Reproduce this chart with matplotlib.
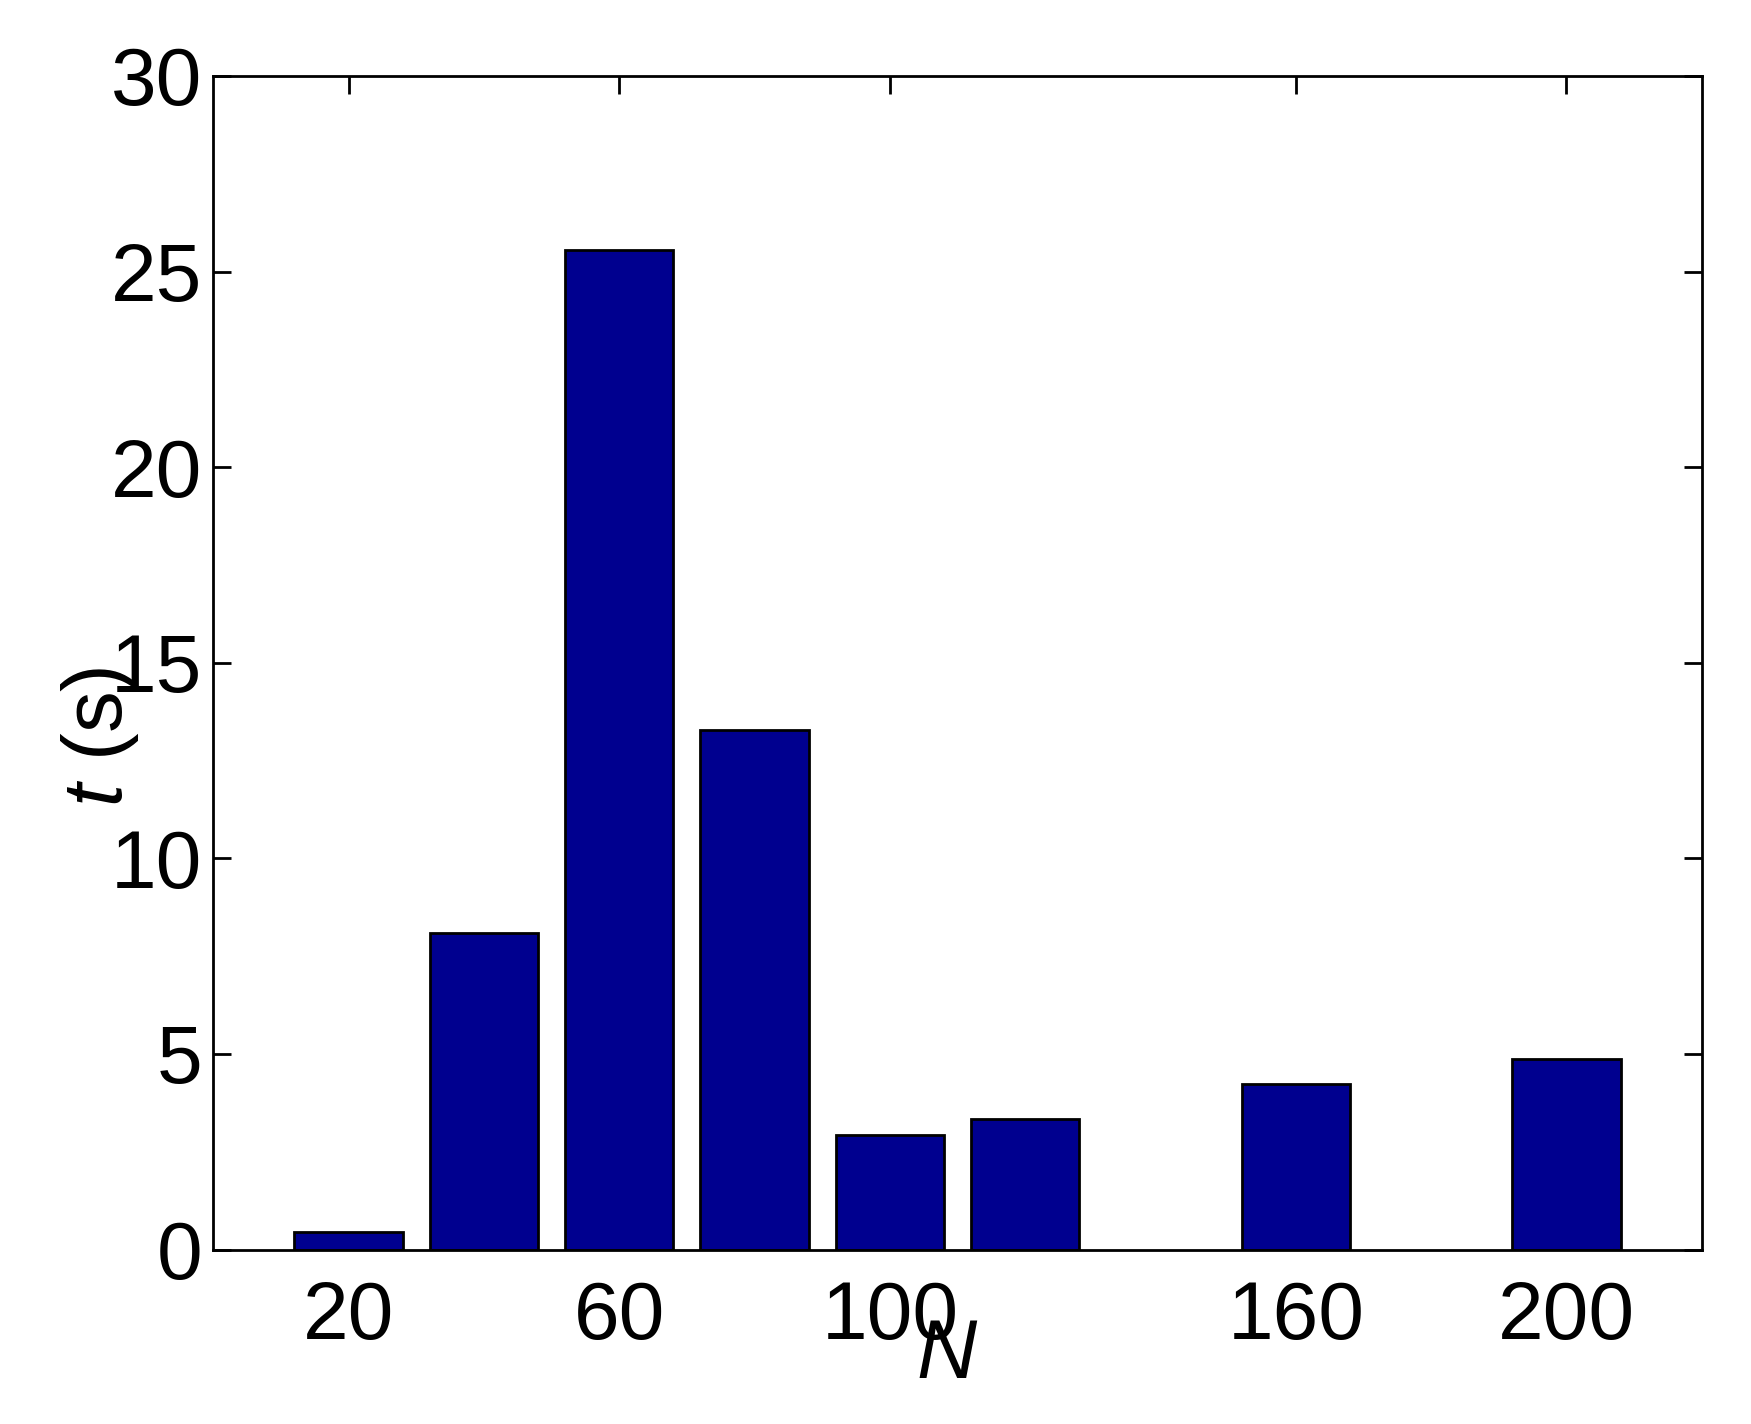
import matplotlib
matplotlib.use("Agg")
import matplotlib.pyplot as plt

N_values = [20, 40, 60, 80, 100, 120, 160, 200]
t_values = [0.45, 8.1, 25.55, 13.27, 2.93, 3.33, 4.22, 4.88]
x_ticks = [20, 60, 100, 160, 200]
y_ticks = [0, 5, 10, 15, 20, 25, 30]

plt.rcParams['font.family'] = ['Liberation Sans', 'DejaVu Sans']
plt.rcParams['mathtext.fontset'] = 'custom'
plt.rcParams['mathtext.it'] = 'Liberation Sans:italic'
plt.rcParams['mathtext.rm'] = 'Liberation Sans'

fig = plt.figure(figsize=(17.51, 14.24), dpi=100)
ax = fig.add_axes([0.1218, 0.1225, 0.9719 - 0.1218, 0.9467 - 0.1225])
ax.set_axisbelow(True)

ax.bar(N_values, t_values, width=16, color='#00008F', edgecolor='black', linewidth=2)

ax.set_xlim(0, 220)
ax.set_ylim(0, 30)
ax.set_xticks(x_ticks)
ax.set_yticks(y_ticks)
ax.tick_params(direction='in', top=True, right=True, length=13, width=2,
               labelsize=59)
ax.tick_params(axis='x', pad=22)
ax.tick_params(axis='y', pad=8)
for s in ax.spines.values():
    s.set_linewidth(2)
    s.set_zorder(5)

ax.set_xlabel(r'$N$', fontsize=60, va='center')
ax.xaxis.set_label_coords(0.493, -0.091)
ax.set_ylabel(r'$t$ (s)', fontsize=60, va='center')
ax.yaxis.set_label_coords(-0.076, 0.437)

fig.savefig('out.png', dpi=100)
